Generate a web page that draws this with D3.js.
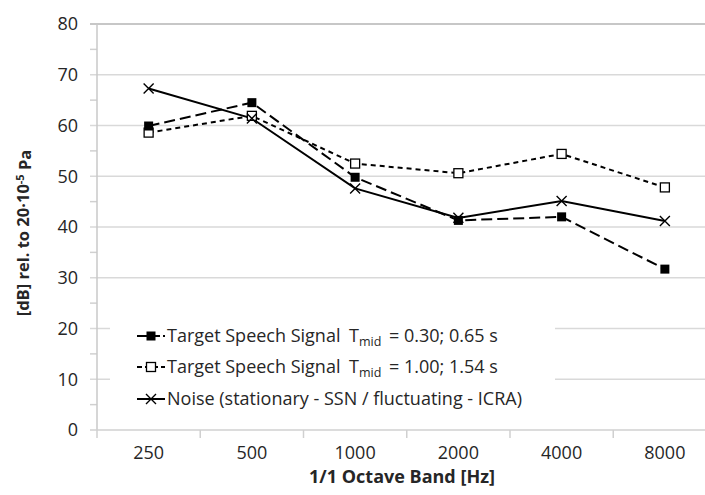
<!DOCTYPE html>
<html>
<head>
<meta charset="utf-8">
<script src="https://cdn.jsdelivr.net/npm/d3@7"></script>
<style>
  html, body { margin: 0; padding: 0; background: #fff; }
  svg { display: block; }
  text { font-family: "Open Sans", "Lato", sans-serif; fill: #262626; }
</style>
</head>
<body>
<svg id="chart" width="705" height="495"></svg>
<script>
// ---- data ----
const categories = ["250", "500", "1000", "2000", "4000", "8000"];
const speechLowT = [59.9, 64.5, 49.8, 41.3, 42.0, 31.7];   // filled squares
const speechHighT = [58.6, 61.9, 52.5, 50.6, 54.4, 47.8];  // open squares
const noise = [67.3, 61.4, 47.6, 41.8, 45.1, 41.2];        // crosses
const yTicks = [0, 10, 20, 30, 40, 50, 60, 70, 80];
const yMinorTicks = [5, 15, 25, 35, 45, 55, 65, 75];
const legendLabels = [
  ["Target Speech Signal", "T", "mid", "= 0.30; 0.65 s"],
  ["Target Speech Signal", "T", "mid", "= 1.00; 1.54 s"],
  ["Noise (stationary - SSN / fluctuating - ICRA)"]
];

const svg = d3.select("#chart");
const pLeft = 97, pRight = 716.5, pTop = 24, pBottom = 430;

const x = d3.scaleBand().domain(categories).range([pLeft, pRight]).padding(0);
const y = d3.scaleLinear().domain([0, 80]).range([pBottom, pTop]);
const cx = c => x(c) + x.bandwidth() / 2;

// gridlines
svg.append("g").selectAll("line").data(yTicks.filter(t => t > 0)).join("line")
  .attr("x1", pLeft - 7).attr("x2", pRight)
  .attr("y1", d => y(d)).attr("y2", d => y(d))
  .attr("stroke", d => d === 80 ? "#b4b4b4" : "#d9d9d9")
  .attr("stroke-width", 1.5);

// minor ticks on y axis
svg.append("g").selectAll("line").data(yMinorTicks).join("line")
  .attr("x1", pLeft - 7).attr("x2", pLeft)
  .attr("y1", d => y(d)).attr("y2", d => y(d))
  .attr("stroke", "#d0d0d0").attr("stroke-width", 1.5);

// y axis line
svg.append("line").attr("x1", pLeft).attr("x2", pLeft).attr("y1", pTop).attr("y2", pBottom)
  .attr("stroke", "#c8c8c8").attr("stroke-width", 1.5);

// x axis line + ticks
svg.append("line").attr("x1", pLeft - 7).attr("x2", pRight).attr("y1", pBottom).attr("y2", pBottom)
  .attr("stroke", "#d0d0d0").attr("stroke-width", 1.5);
const bounds = categories.map(c => x(c)).concat([pRight]);
svg.append("g").selectAll("line").data(bounds).join("line")
  .attr("x1", d => d).attr("x2", d => d).attr("y1", pBottom).attr("y2", pBottom + 8)
  .attr("stroke", "#d0d0d0").attr("stroke-width", 1.5);

// y tick labels
svg.append("g").selectAll("text").data(yTicks).join("text")
  .attr("x", 78).attr("y", d => y(d)).attr("dy", "0.35em")
  .attr("text-anchor", "end").attr("font-size", 18)
  .text(d => d);

// x tick labels
svg.append("g").selectAll("text").data(categories).join("text")
  .attr("x", d => cx(d)).attr("y", 452.5).attr("dy", "0.35em")
  .attr("text-anchor", "middle").attr("font-size", 18)
  .text(d => d);

// axis titles
svg.append("text").attr("x", 402).attr("y", 477).attr("dy", "0.35em")
  .attr("text-anchor", "middle").attr("font-size", 18).attr("font-weight", "bold")
  .text("1/1 Octave Band [Hz]");

const yt = svg.append("text").attr("transform", "translate(23,233) rotate(-90)")
  .attr("dy", "0.35em").attr("text-anchor", "middle")
  .attr("font-size", 16.5).attr("font-weight", "bold");
yt.append("tspan").text("[dB] rel. to 20·10");
yt.append("tspan").attr("dy", "-0.45em").attr("font-size", 11).text("-5");
yt.append("tspan").attr("dy", "0.45em").text(" Pa");

// series
const series = [
  { values: speechLowT, dash: "11,5", marker: "filled", legendDash: "10,3" },
  { values: speechHighT, dash: "5,4", marker: "open", legendDash: "5,3" },
  { values: noise, dash: null, marker: "cross", legendDash: null }
];

const line = d3.line().x((d, i) => cx(categories[i])).y(d => y(d));

function drawMarker(g, type, px, py) {
  if (type === "filled") {
    g.append("rect").attr("x", px - 4.5).attr("y", py - 4.5).attr("width", 9).attr("height", 9)
      .attr("fill", "#000");
  } else if (type === "open") {
    g.append("rect").attr("x", px - 4.5).attr("y", py - 4.5).attr("width", 9).attr("height", 9)
      .attr("fill", "#fff").attr("stroke", "#000").attr("stroke-width", 1.3);
  } else {
    g.append("path").attr("d", `M${px - 5},${py - 5}L${px + 5},${py + 5}M${px - 5},${py + 5}L${px + 5},${py - 5}`)
      .attr("stroke", "#000").attr("stroke-width", 1.4).attr("fill", "none");
  }
}

[series[1], series[0], series[2]].forEach(s => {
  svg.append("path").datum(s.values).attr("d", line)
    .attr("fill", "none").attr("stroke", "#000").attr("stroke-width", 2)
    .attr("stroke-dasharray", s.dash);
});
[series[1], series[0], series[2]].forEach(s => {
  const g = svg.append("g");
  s.values.forEach((v, i) => drawMarker(g, s.marker, cx(categories[i]), y(v)));
});

// legend
const lg = svg.append("g");
lg.append("rect").attr("x", 110).attr("y", 318).attr("width", 445).attr("height", 102).attr("fill", "#fff");
const rowY = [336, 367, 399];
series.forEach((s, i) => {
  const yy = rowY[i];
  const lab = legendLabels[i];
  lg.append("line").attr("x1", 137).attr("x2", 165).attr("y1", yy).attr("y2", yy)
    .attr("stroke", "#000").attr("stroke-width", 2)
    .attr("stroke-dasharray", s.legendDash);
  drawMarker(lg, s.marker, 151, yy);
  const t = lg.append("text").attr("x", 167).attr("y", yy).attr("dy", "0.35em")
    .attr("font-size", 18);
  t.append("tspan").text(lab[0]);
  if (lab.length > 1) {
    t.append("tspan").attr("x", 349).text(lab[1]);
    t.append("tspan").attr("dy", "0.3em").attr("font-size", 12.5).text(lab[2]);
    t.append("tspan").attr("x", 389).attr("dy", "-0.21em").text(lab[3]);
  }
});
</script>
</body>
</html>
